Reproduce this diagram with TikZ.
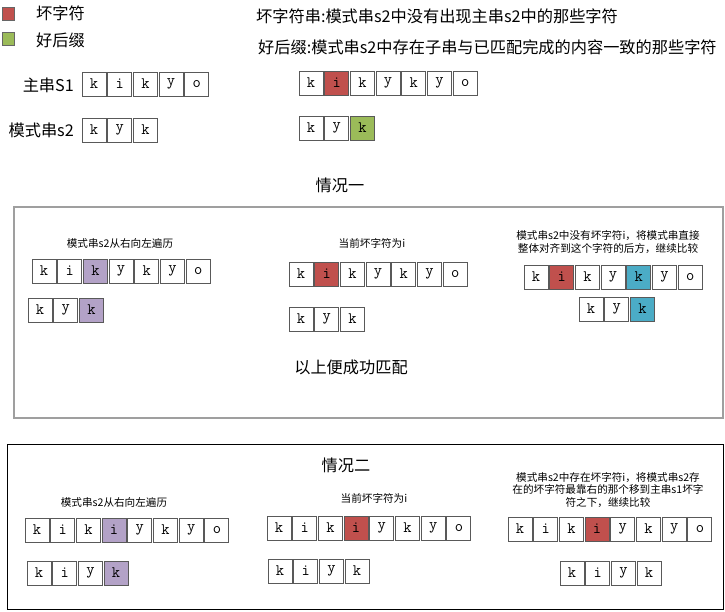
\documentclass[tikz,border=0pt]{standalone}
\usepackage{fontspec}
\setmainfont{Noto Sans CJK SC}

\definecolor{badred}{HTML}{C0504D}
\definecolor{goodgreen}{HTML}{9BBB59}
\definecolor{scanpurple}{HTML}{B3A2C7}
\definecolor{movecyan}{HTML}{4BACC6}

% one row of character cells: name, left x, centre y, list of letter/fill
\newcommand{\cellrow}[4]{%
  \foreach \ch/\fc [count=\i] in {#4} {
    \node[cell, fill=\fc] (#1-\i) at ({#2+12+(\i-1)*25.7}, #3) {\ch};
  }%
}

\begin{document}
\begin{tikzpicture}[x=1pt, y=-1pt,
    cell/.style={draw=gray!70!black, line width=0.9pt, minimum width=24pt,
                 minimum height=24pt, inner sep=0pt, font=\ttfamily\fontsize{16}{16}\selectfont},
    bigtext/.style={inner sep=0pt, font=\fontsize{16.2}{17}\selectfont},
    smalltext/.style={inner sep=0pt, align=center, font=\fontsize{10.6}{12.5}\selectfont},
    legendbox/.style={draw=black!60, line width=0.6pt, minimum width=12pt,
                      minimum height=13pt, inner sep=0pt}]
    \useasboundingbox (0,0) rectangle (725,611);

    % legend and definitions
    \node[legendbox, fill=badred] (badkey) at (8,14) {};
    \node[legendbox, fill=goodgreen] (goodkey) at (8,39) {};
    \node[bigtext, anchor=west] (badname) at (36,13) {坏字符};
    \node[bigtext, anchor=west] (goodname) at (36,40) {好后缀};
    \node[bigtext, anchor=west] (baddef) at (256,16) {坏字符串:模式串s2中没有出现主串s2中的那些字符};
    \node[bigtext, anchor=west] (gooddef) at (258,47) {好后缀:模式串s2中存在子串与已匹配完成的内容一致的那些字符};

    % example strings
    \node[bigtext, anchor=east] (mainlabel) at (74,85) {主串S1};
    \node[bigtext, anchor=east] (patlabel) at (74,130) {模式串s2};
    \cellrow{ma}{82}{84}{k/white, i/white, k/white, y/white, o/white}
    \cellrow{pa}{82}{130}{k/white, y/white, k/white}
    \cellrow{mb}{299}{83}{k/white, i/badred, k/white, y/white, k/white, y/white, o/white}
    \cellrow{pb}{299}{128}{k/white, y/white, k/goodgreen}

    % case one
    \node[bigtext] (caseone) at (340,185) {情况一};
    \draw[gray!75, line width=1.6pt] (14,207) rectangle (723,418);

    \node[smalltext] (scanone) at (120,243) {模式串s2从右向左遍历};
    \cellrow{m1}{32}{271}{k/white, i/white, k/scanpurple, y/white, k/white, y/white, o/white}
    \cellrow{p1}{28}{310}{k/white, y/white, k/scanpurple}

    \node[smalltext] (badone) at (372,243) {当前坏字符为i};
    \cellrow{m2}{289}{274}{k/white, i/badred, k/white, y/white, k/white, y/white, o/white}
    \cellrow{p2}{289}{319}{k/white, y/white, k/white}

    \node[smalltext] (shiftone) at (608,242) {模式串s2中没有坏字符i，将模式串直接\\整体对齐到这个字符的后方，继续比较};
    \cellrow{m3}{524}{277}{k/white, i/badred, k/white, y/white, k/movecyan, y/white, o/white}
    \cellrow{p3}{579}{309}{k/white, y/white, k/movecyan}

    \node[bigtext] (matched) at (351,367) {以上便成功匹配};

    % case two
    \draw[black, line width=0.8pt] (7,444) rectangle (723,609);
    \node[bigtext] (casetwo) at (346,465) {情况二};

    \node[smalltext] (scantwo) at (114,502) {模式串s2从右向左遍历};
    \cellrow{m4}{25}{530}{k/white, i/white, k/white, i/scanpurple, y/white, k/white, y/white, o/white}
    \cellrow{p4}{27}{573}{k/white, i/white, y/white, k/scanpurple}

    \node[smalltext] (badtwo) at (374,498) {当前坏字符为i};
    \cellrow{m5}{267}{528}{k/white, i/white, k/white, i/badred, y/white, k/white, y/white, o/white}
    \cellrow{p5}{268}{571}{k/white, i/white, y/white, k/white}

    \node[smalltext] (shifttwo) at (608,490) {模式串s2中存在坏字符i，将模式串s2存\\在的坏字符最靠右的那个移到主串s1坏字\\符之下，继续比较};
    \cellrow{m6}{508}{529}{k/white, i/white, k/white, i/badred, y/white, k/white, y/white, o/white}
    \cellrow{p6}{560}{573}{k/white, i/white, y/white, k/white}
\end{tikzpicture}
\end{document}
